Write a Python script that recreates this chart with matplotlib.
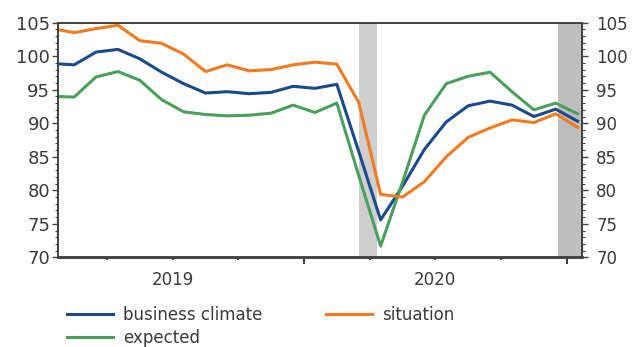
import numpy as np
import matplotlib
matplotlib.use('Agg')
import matplotlib.pyplot as plt
from matplotlib.ticker import MultipleLocator

# -------------------
# Monthly index values, Jan 2019 .. Jan 2021
# -------------------
months = ['2019-01', '2019-02', '2019-03', '2019-04', '2019-05', '2019-06',
          '2019-07', '2019-08', '2019-09', '2019-10', '2019-11', '2019-12',
          '2020-01', '2020-02', '2020-03', '2020-04', '2020-05', '2020-06',
          '2020-07', '2020-08', '2020-09', '2020-10', '2020-11', '2020-12',
          '2021-01']
business_climate = [98.9, 98.7, 100.6, 101.0, 99.6, 97.6, 95.9, 94.5, 94.7, 94.4,
                    94.6, 95.5, 95.2, 95.8, 85.8, 75.6, 80.6, 86.1, 90.2, 92.6,
                    93.3, 92.7, 91.0, 92.1, 90.3]
situation = [104.1, 103.5, 104.1, 104.6, 102.3, 101.9, 100.3, 97.7, 98.7, 97.8,
             98.0, 98.7, 99.1, 98.8, 93.1, 79.4, 79.0, 81.3, 85.0, 87.9,
             89.3, 90.5, 90.1, 91.4, 89.4]
expected = [94.0, 93.9, 96.9, 97.7, 96.4, 93.5, 91.7, 91.3, 91.1, 91.2,
            91.5, 92.7, 91.6, 93.0, 82.2, 71.7, 81.2, 91.2, 95.9, 97.0,
            97.6, 94.7, 92.0, 93.0, 91.4]

years = ['2019', '2020']
year_centres = [5.5, 17.5]          # month index of mid-year
quarter_edges = [2.5, 5.5, 8.5, 11.5, 14.5, 17.5, 20.5, 23.5]
year_edges = [11.5, 23.5]
light_band = (14.0, 14.85)
dark_band = (23.1, 24.3)

x = np.arange(len(months))

c_blue = '#1b4a8c'
c_orange = '#f27a1f'
c_green = '#4b9e5c'
c_text = '#3a3a3a'
c_axis = '#404040'

plt.rcParams['font.family'] = 'DejaVu Sans'

fig = plt.figure(figsize=(6.34, 3.47), dpi=100)
ax = fig.add_axes([0.0907, 0.258, 0.8273, 0.677])

ax.axvspan(*light_band, color='#cfcfcf', lw=0, zorder=0)
ax.axvspan(*dark_band, color='#bebebe', lw=0, zorder=0)

l_bc, = ax.plot(x, business_climate, color=c_blue, lw=2.2, label='business climate')
l_ex, = ax.plot(x, expected, color=c_green, lw=2.2, label='expected')
l_si, = ax.plot(x, situation, color=c_orange, lw=2.2, label='situation')

ax.set_xlim(0.24, 24.2)
ax.set_ylim(70, 105)

# y axis: labels on both sides
ax.yaxis.set_major_locator(MultipleLocator(5))
ax.yaxis.set_minor_locator(MultipleLocator(1))
ax.tick_params(axis='y', which='major', length=4.3, width=1, color=c_axis,
               labelsize=13, labelcolor=c_text, pad=1)
ax.tick_params(axis='y', which='minor', length=2.2, width=0.8, color=c_axis)

ax2 = ax.twinx()
ax2.set_ylim(70, 105)
ax2.yaxis.set_major_locator(MultipleLocator(5))
ax2.yaxis.set_minor_locator(MultipleLocator(1))
ax2.tick_params(axis='y', which='major', length=4.3, width=1, color=c_axis,
                labelsize=12, labelcolor=c_text, pad=6)
ax2.tick_params(axis='y', which='minor', length=2.2, width=0.8, color=c_axis)

# x axis: quarter ticks, longer at year ends, year names in between
ax.xaxis.remove_overlapping_locs = False
ax.set_xticks(quarter_edges)
ax.set_xticklabels([])
ax.tick_params(axis='x', which='major', length=2.2, width=1.5, color=c_axis)
for tick, loc in zip(ax.xaxis.get_major_ticks(), quarter_edges):
    if loc in year_edges:
        tick.tick1line.set_markersize(5)
ax.set_xticks(year_centres, labels=years, minor=True)
ax.tick_params(axis='x', which='minor', length=0, pad=10,
               labelsize=12, labelcolor=c_text)

for a in (ax, ax2):
    for s in a.spines.values():
        s.set_color(c_axis)
        s.set_linewidth(1.2)
    a.spines['bottom'].set_linewidth(1.8)

fig.legend(handles=[l_bc, l_ex, l_si], loc='upper left',
           bbox_to_anchor=(0.1057, 0.119), ncol=2, frameon=False,
           fontsize=12, labelcolor=c_text, handlelength=2.75,
           handletextpad=0.6, columnspacing=3.85, labelspacing=0.3,
           borderpad=0, borderaxespad=0)

fig.savefig('out.png', dpi=100)
